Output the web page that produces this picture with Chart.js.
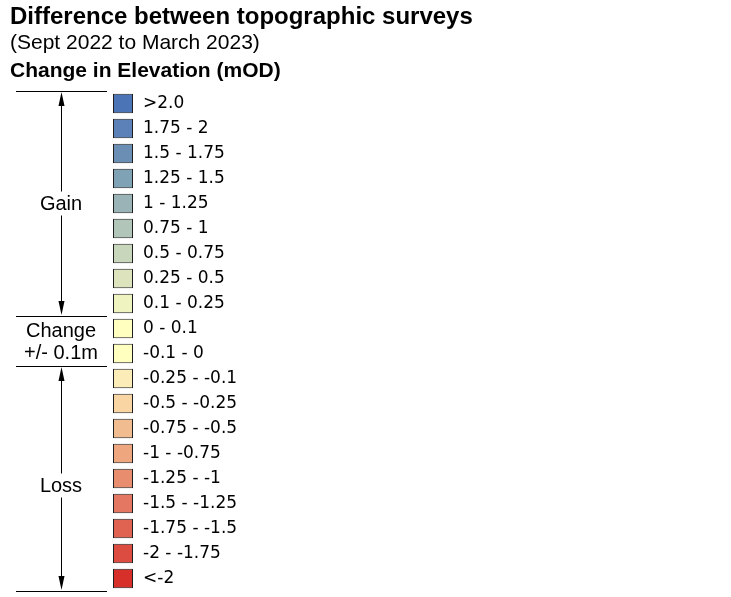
<!DOCTYPE html>
<html>
<head>
<meta charset="utf-8">
<script src="https://cdn.jsdelivr.net/npm/chart.js@4.4.1/dist/chart.umd.min.js"></script>
<style>
  html, body { margin: 0; padding: 0; background: #fff; }
  #wrap { position: relative; width: 731px; height: 597px; overflow: hidden; }
  #c { position: absolute; left: 0; top: 0; }
  .ttl { position: absolute; left: 10px; color: #000; font-family: "Liberation Sans", Arial, sans-serif; white-space: nowrap; line-height: 1; }
</style>
</head>
<body>
<div id="wrap">
  <canvas id="c" width="731" height="597"></canvas>
  <div class="ttl" style="top:4px;font-size:24px;font-weight:bold;">Difference between topographic surveys</div>
  <div class="ttl" style="top:31px;font-size:21px;">(Sept 2022 to March 2023)</div>
  <div class="ttl" style="top:59px;font-size:21px;font-weight:bold;">Change in Elevation (mOD)</div>
</div>
<script>
// Legend classes (change in elevation, mOD)
const categories = [
  '>2.0', '1.75 - 2', '1.5 - 1.75', '1.25 - 1.5', '1 - 1.25',
  '0.75 - 1', '0.5 - 0.75', '0.25 - 0.5', '0.1 - 0.25', '0 - 0.1',
  '-0.1 - 0', '-0.25 - -0.1', '-0.5 - -0.25', '-0.75 - -0.5', '-1 - -0.75',
  '-1.25 - -1', '-1.5 - -1.25', '-1.75 - -1.5', '-2 - -1.75', '<-2'
];
// each swatch spans the full (0..1) width of the swatch column
const swatchSpans = [
  [0, 1], [0, 1], [0, 1], [0, 1], [0, 1],
  [0, 1], [0, 1], [0, 1], [0, 1], [0, 1],
  [0, 1], [0, 1], [0, 1], [0, 1], [0, 1],
  [0, 1], [0, 1], [0, 1], [0, 1], [0, 1]
];
const swatchColors = [
  '#4a74b5', '#5b81b8', '#6b8eb5', '#80a2b5', '#9ab3b6',
  '#b1c5b9', '#c8d7bc', '#dde4bd', '#eff3c0', '#ffffc0',
  '#ffffbf', '#fcecb8', '#f8d5a2', '#f2bc91', '#eda67e',
  '#e88d6e', '#e47762', '#e06352', '#dc4c40', '#d7302b'
];
// side brackets: group names and the first/last class index of each group
const groupNames = [['Gain'], ['Change', '+/- 0.1m'], ['Loss']];
const groupStart = [0, 9, 11];
const groupEnd = [8, 10, 19];

const sideFont = '20px "Liberation Sans", Arial, sans-serif';

function arrowHead(ctx, x, y, dir) {
  // dir = -1 points up, +1 points down; tip at (x, y)
  ctx.beginPath();
  ctx.moveTo(x, y);
  ctx.lineTo(x - 3, y - dir * 14);
  ctx.lineTo(x + 3, y - dir * 14);
  ctx.closePath();
  ctx.fill();
}

const bracketPlugin = {
  id: 'brackets',
  afterDraw(chart) {
    const ctx = chart.ctx;
    const y = chart.scales.y;
    const half = Math.abs(y.getPixelForValue(1) - y.getPixelForValue(0)) / 2;
    const topOf = i => y.getPixelForValue(i) - half;
    const botOf = i => y.getPixelForValue(i) + half;
    const x0 = 16, x1 = 107, ax = 61.5;
    ctx.save();
    ctx.strokeStyle = '#000';
    ctx.fillStyle = '#000';
    ctx.lineWidth = 1;
    // horizontal dividers
    const divs = [topOf(groupStart[0])];
    groupEnd.forEach(e => divs.push(botOf(e)));
    divs.forEach(v => {
      const yy = Math.round(v) + 0.5;
      ctx.beginPath(); ctx.moveTo(x0, yy); ctx.lineTo(x1, yy); ctx.stroke();
    });
    ctx.font = sideFont;
    ctx.textAlign = 'center';
    ctx.textBaseline = 'middle';
    groupNames.forEach((lines, g) => {
      const t = topOf(groupStart[g]);
      const b = botOf(groupEnd[g]);
      if (lines.length > 1) {
        const mid = (t + b) / 2;
        ctx.fillText(lines[0], 61, mid - 10);
        ctx.fillText(lines[1], 61, mid + 12);
        return;
      }
      const mid = (t + b) / 2 + (g === 2 ? 7 : 0);
      ctx.fillText(lines[0], 61, mid + 1);
      // upper arrow
      ctx.beginPath(); ctx.moveTo(ax, mid - 12); ctx.lineTo(ax, t + 8); ctx.stroke();
      arrowHead(ctx, ax, t + 1, -1);
      // lower arrow
      ctx.beginPath(); ctx.moveTo(ax, mid + 12); ctx.lineTo(ax, b - 8); ctx.stroke();
      arrowHead(ctx, ax, b - 1, 1);
    });
    ctx.restore();
  }
};

new Chart(document.getElementById('c'), {
  type: 'bar',
  data: {
    labels: categories,
    datasets: [{
      data: swatchSpans,
      backgroundColor: swatchColors,
      borderColor: '#1e1e1e',
      borderWidth: 1,
      borderSkipped: false,
      barPercentage: 0.78,
      categoryPercentage: 1
    }]
  },
  options: {
    indexAxis: 'y',
    responsive: false,
    animation: false,
    events: [],
    layout: { padding: { left: 113, top: 91, bottom: 6, right: 348 } },
    plugins: { legend: { display: false }, tooltip: { enabled: false }, title: { display: false } },
    scales: {
      x: { display: false, min: 0, max: 1 },
      y: {
        position: 'right',
        offset: true,
        grid: { display: false, drawTicks: false },
        border: { display: false },
        ticks: {
          padding: 10,
          color: '#000',
          autoSkip: false,
          font: { family: '"DejaVu Sans", Verdana, sans-serif', size: 17 }
        },
        afterFit(s) { s.width = 250; s.paddingTop = 0; s.paddingBottom = 0; }
      }
    }
  },
  plugins: [bracketPlugin]
});
</script>
</body>
</html>
